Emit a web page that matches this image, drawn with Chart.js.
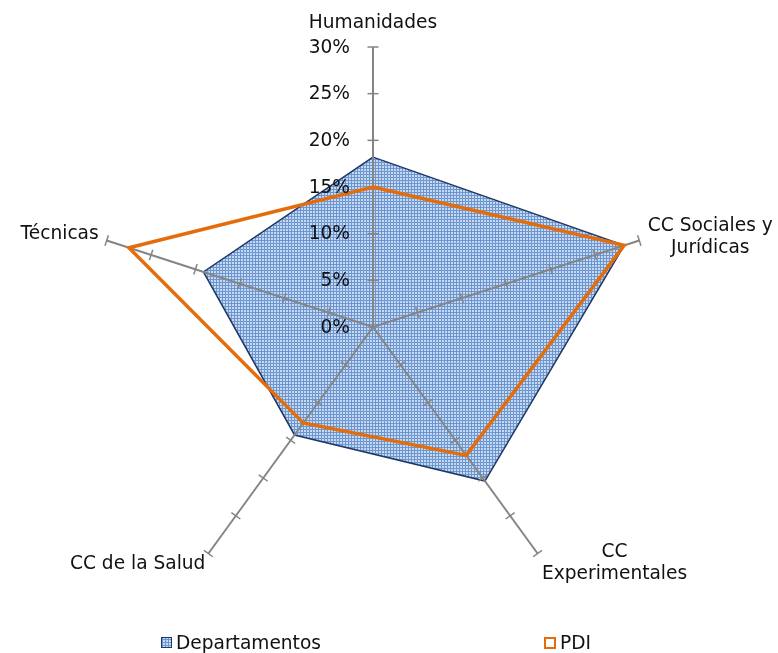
<!DOCTYPE html>
<html>
<head>
<meta charset="utf-8">
<script src="https://cdn.jsdelivr.net/npm/chart.js@4.4.1/dist/chart.umd.min.js"></script>
<style>
    html, body { margin: 0; padding: 0; background: #fff; }
    #wrap { width: 778px; height: 653px; position: relative; }
</style>
</head>
<body>
<div id="wrap"><canvas id="chart"></canvas></div>
<script>
// Datos (porcentajes)
const AREAS = ['Humanidades', ['CC Sociales y', 'Jurídicas'], ['CC', 'Experimentales'], 'CC de la Salud', 'Técnicas'];
const DEPARTAMENTOS = [18.2, 28.3, 20.4, 14.3, 19.1];
const PDI = [15.0, 28.3, 17.0, 12.7, 27.5];
const TICKS = [0, 5, 10, 15, 20, 25, 30];
const TICK_LABELS = ['0%', '5%', '10%', '15%', '20%', '25%', '30%'];

const FONT = '18.6px "DejaVu Sans", Verdana, sans-serif';
const AXIS_COLOR = '#858585';
const NAVY = '#1F3864';
const ORANGE = '#E46C0A';

// trama cuadriculada del relleno
function makePattern() {
    const c = document.createElement('canvas');
    c.width = 3; c.height = 3;
    const g = c.getContext('2d');
    g.fillStyle = '#c7d9f0';
    g.fillRect(0, 0, 3, 3);
    g.fillStyle = '#6c96d0';
    g.fillRect(0, 0, 3, 1);
    g.fillRect(0, 0, 1, 3);
    return g.createPattern(c, 'repeat');
}
const PATTERN = makePattern();

// colocación de las etiquetas de cada eje (respecto al extremo del eje)
const LABEL_PLACE = [
    { dx: 0, dy: -24, align: 'center' },
    { dx: 71, dy: -3, align: 'center' },
    { dx: 77, dy: 10, align: 'center' },
    { dx: -3, dy: 11, align: 'right' },
    { dx: -8, dy: -6, align: 'right' }
];

function drawAxes(chart) {
    const ctx = chart.ctx;
    const r = chart.scales.r;
    ctx.save();
    ctx.strokeStyle = AXIS_COLOR;
    ctx.lineWidth = 2;
    AREAS.forEach((_, i) => {
        const end = r.getPointPosition(i, r.drawingArea);
        ctx.beginPath();
        ctx.moveTo(r.xCenter, r.yCenter);
        ctx.lineTo(end.x, end.y);
        ctx.stroke();
        const nx = -Math.sin(end.angle), ny = Math.cos(end.angle);
        ctx.lineWidth = 1.5;
        TICKS.forEach(v => {
            if (v === 0) return;
            const p = r.getPointPosition(i, r.getDistanceFromCenterForValue(v));
            ctx.beginPath();
            ctx.moveTo(p.x - nx * 5.5, p.y - ny * 5.5);
            ctx.lineTo(p.x + nx * 5.5, p.y + ny * 5.5);
            ctx.stroke();
        });
        ctx.lineWidth = 2;
    });
    ctx.restore();
}

function drawLabels(chart) {
    const ctx = chart.ctx;
    const r = chart.scales.r;
    ctx.save();
    ctx.font = FONT;
    ctx.fillStyle = '#111';
    ctx.textBaseline = 'middle';
    // valores del eje
    ctx.textAlign = 'right';
    TICKS.forEach((v, k) => {
        const p = r.getPointPosition(0, r.getDistanceFromCenterForValue(v));
        ctx.fillText(TICK_LABELS[k], p.x - 23, p.y + 1);
    });
    // categorías
    AREAS.forEach((lbl, i) => {
        const end = r.getPointPosition(i, r.drawingArea);
        const place = LABEL_PLACE[i];
        const lines = Array.isArray(lbl) ? lbl : [lbl];
        const lh = 22;
        ctx.textAlign = place.align;
        lines.forEach((t, j) => {
            const y = end.y + place.dy + (j - (lines.length - 1) / 2) * lh;
            ctx.fillText(t, end.x + place.dx, y);
        });
    });
    ctx.restore();
}

function drawLegend(chart) {
    const ctx = chart.ctx;
    const w = chart.width;
    const y = chart.height - 10;
    ctx.save();
    ctx.font = FONT;
    ctx.textBaseline = 'middle';
    ctx.textAlign = 'left';
    // Departamentos
    let x = Math.round(w * 0.207);
    ctx.fillStyle = PATTERN;
    ctx.fillRect(x, y - 6, 11, 11);
    ctx.strokeStyle = NAVY;
    ctx.lineWidth = 1;
    ctx.strokeRect(x + 0.5, y - 5.5, 10, 10);
    ctx.fillStyle = '#111';
    ctx.fillText(chart.data.datasets[0].label, x + 15, y + 1);
    // PDI
    x = Math.round(w * 0.699);
    ctx.strokeStyle = ORANGE;
    ctx.lineWidth = 2;
    ctx.strokeRect(x + 1, y - 5, 10, 10);
    ctx.fillStyle = '#111';
    ctx.fillText(chart.data.datasets[1].label, x + 16, y + 1);
    ctx.restore();
}

const radarDecor = {
    id: 'radarDecor',
    afterDatasetDraw(chart, args) {
        if (args.index === 0) drawAxes(chart);
    },
    afterDraw(chart) {
        drawLabels(chart);
        drawLegend(chart);
    }
};

const chart = new Chart(document.getElementById('chart'), {
    type: 'radar',
    data: {
        labels: AREAS,
        datasets: [{
            label: 'Departamentos',
            data: DEPARTAMENTOS,
            backgroundColor: PATTERN,
            borderColor: NAVY,
            borderWidth: 1.5,
            fill: true,
            pointRadius: 0,
            order: 2
        }, {
            label: 'PDI',
            data: PDI,
            borderColor: ORANGE,
            backgroundColor: 'transparent',
            borderWidth: 3.5,
            fill: false,
            pointRadius: 0,
            order: 1
        }]
    },
    options: {
        responsive: true,
        maintainAspectRatio: false,
        animation: false,
        layout: { padding: { left: 93, right: 125, top: 47, bottom: 46 } },
        elements: { line: { tension: 0, borderJoinStyle: 'miter' } },
        plugins: {
            legend: { display: false },
            tooltip: { enabled: false }
        },
        scales: {
            r: {
                min: 0,
                max: 30,
                ticks: { display: false, stepSize: 5 },
                grid: { display: false },
                angleLines: { display: false },
                pointLabels: { display: false }
            }
        }
    },
    plugins: [radarDecor]
});
</script>
</body>
</html>
